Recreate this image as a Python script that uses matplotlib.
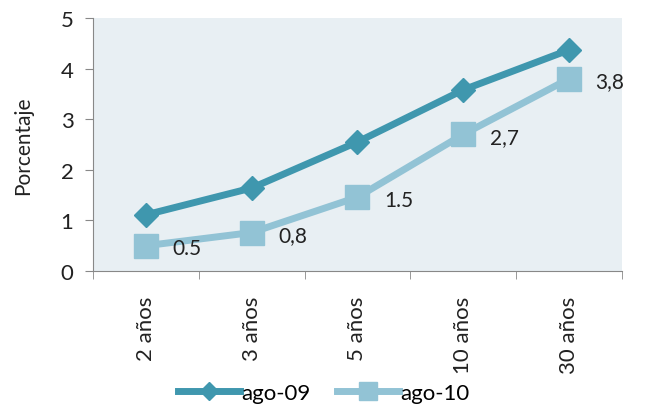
import matplotlib
matplotlib.use("Agg")
import matplotlib.pyplot as plt
from matplotlib.ticker import FixedLocator

categories = ["2 años", "3 años", "5 años", "10 años", "30 años"]
ago09 = [1.11, 1.64, 2.55, 3.58, 4.37]
ago10 = [0.5, 0.76, 1.46, 2.7, 3.8]
labels10 = ["0.5", "0,8", "1.5", "2,7", "3,8"]
yticks = [0, 1, 2, 3, 4, 5]

plt.rcParams['font.family'] = ['Lato', 'DejaVu Sans']

fig = plt.figure(figsize=(6.47, 4.10), dpi=100)
ax = fig.add_axes([0.1437, 0.3366, 0.8177, 0.6171])
ax.set_facecolor('#e8eff3')

c09 = '#3f97ae'
c10 = '#92c3d5'
x = list(range(len(categories)))
ax.plot(x, ago09, color=c09, lw=5, marker='D', ms=12, label='ago-09', zorder=3)
ax.plot(x, ago10, color=c10, lw=5, marker='s', ms=17, label='ago-10', zorder=3)

for xi, yi, t in zip(x, ago10, labels10):
    ax.annotate(t, (xi, yi), xytext=(19, -2), textcoords='offset points',
                ha='left', va='center', fontsize=15, color='#222222')

ax.set_xlim(-0.5, len(categories) - 0.5)
ax.set_ylim(0, 5)
ax.set_yticks(yticks)
ax.set_xticks(x)
ax.set_xticklabels(categories, rotation=90, fontsize=16, color='#222222')
ax.xaxis.set_minor_locator(FixedLocator([i - 0.5 for i in range(len(categories) + 1)]))
ax.tick_params(axis='x', which='major', length=0, pad=18)
ax.tick_params(axis='x', which='minor', length=6, color='#888888')
ax.tick_params(axis='y', length=6, color='#888888', labelsize=16, labelcolor='#222222', pad=8)
for s in ['top', 'right']:
    ax.spines[s].set_visible(False)
for s in ['left', 'bottom']:
    ax.spines[s].set_color('#888888')
ax.set_ylabel('Porcentaje', fontsize=15, color='#222222', labelpad=20)

fig.legend(loc='center', bbox_to_anchor=(0.5, 0.04), ncol=2, frameon=False,
           fontsize=16, handlelength=2.8, handletextpad=0.05, columnspacing=1.2,
           markerscale=0.8)

fig.savefig('out.png', dpi=100)
